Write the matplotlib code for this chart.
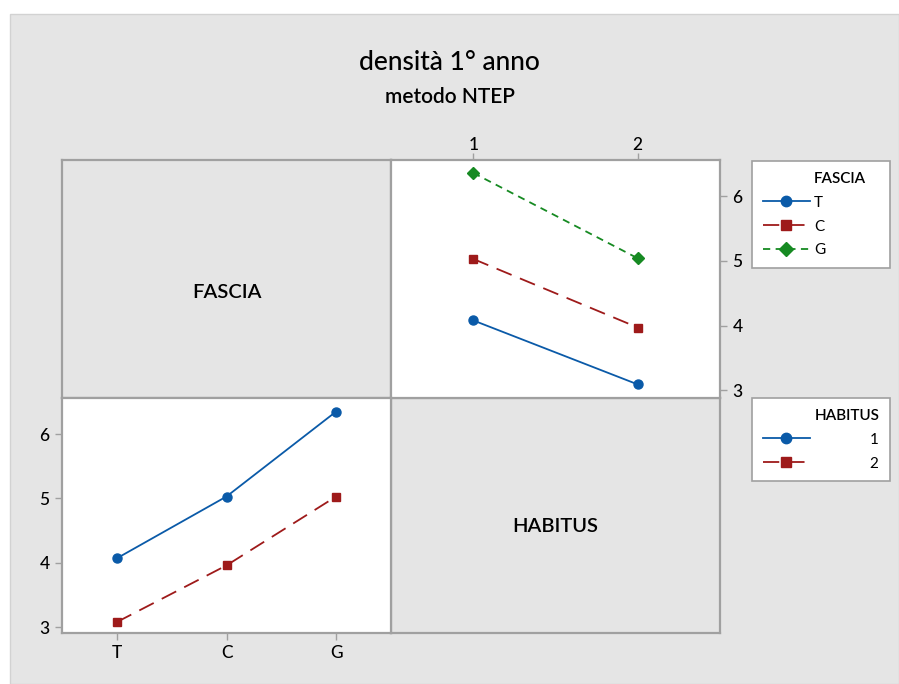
import matplotlib
matplotlib.use('Agg')
import matplotlib.pyplot as plt
from matplotlib.patches import Rectangle
from matplotlib.lines import Line2D

plt.rcParams['font.family'] = ['Lato', 'DejaVu Sans']

# mean density, first year, NTEP method
fascia_levels = ['T', 'C', 'G']
habitus_levels = ['1', '2']

# rows: FASCIA level, columns: HABITUS level
dens_T = [4.08, 3.09]
dens_C = [5.03, 3.97]
dens_G = [6.36, 5.04]

# rows: HABITUS level, columns: FASCIA level
dens_h1 = [4.07, 5.03, 6.35]
dens_h2 = [3.08, 3.96, 5.03]

BLUE = '#0a5aa8'
RED = '#9e1a1a'
GREEN = '#168a22'
BG = '#e5e5e5'
EDGE = '#a0a0a0'

W, H = 899, 684
fig = plt.figure(figsize=(W / 100, H / 100), dpi=100, facecolor='white')

def px(x0, y0, x1, y1):
    return [x0 / W, 1 - y1 / H, (x1 - x0) / W, (y1 - y0) / H]

fig.patches.append(Rectangle((10 / W, 0), 1 - 10 / W, 1 - 14 / H,
                             transform=fig.transFigure, facecolor=BG,
                             edgecolor='#d2d2d2', lw=1, zorder=-10))

fig.text(0.5, 1 - 62 / H, 'densità 1° anno', ha='center', va='center',
         fontsize=19, fontweight='medium')
fig.text(0.5, 1 - 97 / H, 'metodo NTEP', ha='center', va='center',
         fontsize=15, fontweight='semibold')

styles = {
    'T': dict(color=BLUE, ls='-', marker='o', ms=6.5),
    'C': dict(color=RED, ls=(0, (9, 5)), marker='s', ms=6),
    'G': dict(color=GREEN, ls=(0, (4, 3)), marker='D', ms=6),
    '1': dict(color=BLUE, ls='-', marker='o', ms=6.5),
    '2': dict(color=RED, ls=(0, (9, 5)), marker='s', ms=6),
}

def frame(ax, face):
    ax.set_facecolor(face)
    for s in ax.spines.values():
        s.set_color(EDGE)
        s.set_linewidth(1.6)

# top-left: label panel for FASCIA
ax_f = fig.add_axes(px(62, 160, 391, 398))
frame(ax_f, BG)
ax_f.set_xticks([]); ax_f.set_yticks([])
ax_f.text(0.5, 0.445, 'FASCIA', ha='center', va='center', fontsize=14.5,
          fontweight='semibold', transform=ax_f.transAxes)

# bottom-right: label panel for HABITUS
ax_h = fig.add_axes(px(391, 398, 720, 633))
frame(ax_h, BG)
ax_h.set_xticks([]); ax_h.set_yticks([])
ax_h.text(0.5, 0.455, 'HABITUS', ha='center', va='center', fontsize=14.5,
          fontweight='semibold', transform=ax_h.transAxes)

# top-right: density vs HABITUS, one line per FASCIA level
ax1 = fig.add_axes(px(391, 160, 720, 398))
frame(ax1, 'white')
xh = [1, 2]
lines_f = []
for lev, vals in zip(fascia_levels, [dens_T, dens_C, dens_G]):
    st = styles[lev]
    ln, = ax1.plot(xh, vals, color=st['color'], ls=st['ls'], lw=1.3,
                   marker=st['marker'], ms=st['ms'], label=lev)
    lines_f.append(ln)
ax1.set_xlim(0.5, 2.5)
ax1.set_ylim(2.88, 6.56)
ax1.set_xticks(xh, habitus_levels)
ax1.set_yticks([3, 4, 5, 6])
ax1.xaxis.tick_top()
ax1.yaxis.tick_right()
ax1.tick_params(length=5, width=1, color=EDGE, labelsize=12.5, pad=4)
ax1.tick_params(axis='x', pad=0)

# bottom-left: density vs FASCIA, one line per HABITUS level
ax2 = fig.add_axes(px(62, 398, 391, 633))
frame(ax2, 'white')
xf = [0, 1, 2]
lines_h = []
for lev, vals in zip(habitus_levels, [dens_h1, dens_h2]):
    st = styles[lev]
    ln, = ax2.plot(xf, vals, color=st['color'], ls=st['ls'], lw=1.3,
                   marker=st['marker'], ms=st['ms'], label=lev)
    lines_h.append(ln)
ax2.set_xlim(-0.5, 2.5)
ax2.set_ylim(2.91, 6.56)
ax2.set_xticks(xf, fascia_levels)
ax2.set_yticks([3, 4, 5, 6])
ax2.tick_params(length=5, width=1, color=EDGE, labelsize=12.5, pad=4)

for ax in (ax1, ax2):
    for lab in ax.get_xticklabels() + ax.get_yticklabels():
        lab.set_fontweight('medium')

leg_kw = dict(loc='upper left', mode='expand', borderaxespad=0, fontsize=11,
              handlelength=3.1, labelspacing=0.65, borderpad=0.7,
              markerscale=1.15, fancybox=False, framealpha=1, edgecolor=EDGE)

def anchor(top_px):
    return (752 / W, 1 - top_px / H - 0.01, 138 / W, 0.01)

# legend for FASCIA: header placed as an entry so it lines up with the labels
blank = Line2D([], [], color='none')
leg1 = fig.legend([blank] + lines_f, ['FASCIA'] + fascia_levels,
                  bbox_to_anchor=anchor(161), handletextpad=0.25, **leg_kw)
leg1.get_frame().set_linewidth(1.2)
leg1.get_texts()[0].set_fontweight('semibold')

# legend for HABITUS: header right-aligned with the level labels
leg2 = fig.legend(lines_h, habitus_levels, title='HABITUS', alignment='right',
                  bbox_to_anchor=anchor(398), title_fontsize=11,
                  handletextpad=3.9, **leg_kw)
leg2.get_frame().set_linewidth(1.2)
leg2.get_title().set_fontweight('semibold')

fig.savefig('out.png', dpi=100, facecolor='white')
